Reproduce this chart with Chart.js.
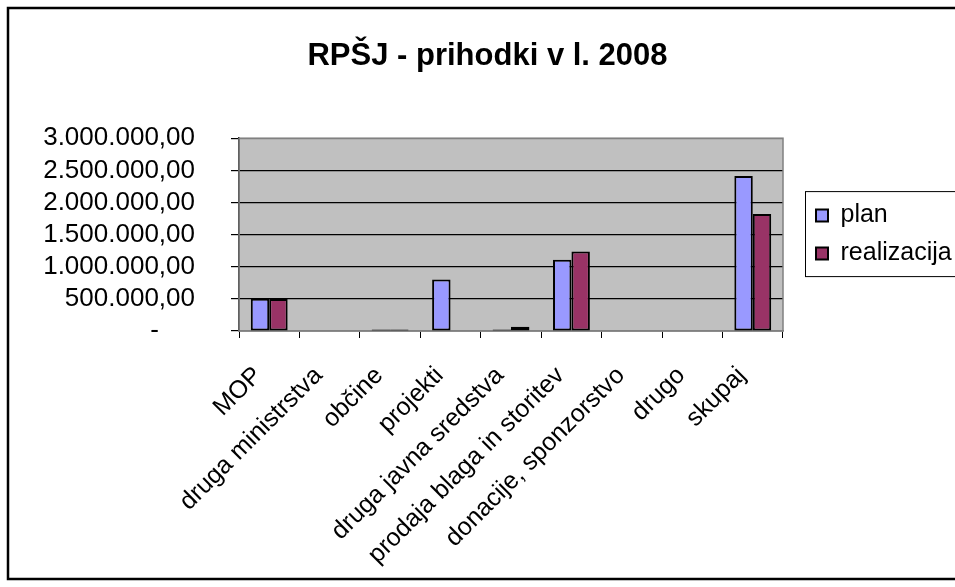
<!DOCTYPE html>
<html>
<head>
<meta charset="utf-8">
<script src="https://cdn.jsdelivr.net/npm/chart.js@4.4.1/dist/chart.umd.min.js"></script>
<style>
  body { margin: 0; background: #fff; }
  canvas { display: block; }
</style>
</head>
<body>
<canvas id="barChart" width="955" height="587"></canvas>
<script>
// RPŠJ - prihodki v l. 2008
const categories = ['MOP', 'druga ministrstva', 'občine', 'projekti', 'druga javna sredstva',
    'prodaja blaga in storitev', 'donacije, sponzorstvo', 'drugo', 'skupaj'];
const planValues = [500000, 0, 25000, 800000, 25000, 1110000, 0, 0, 2410000];
const realValues = [498000, 0, 25000, 0, 65000, 1237000, 0, 0, 1820000];
const yTicks = [0, 500000, 1000000, 1500000, 2000000, 2500000, 3000000];

const font = 'Liberation Sans';

// 3.000.000,00 style
function fmt(v) {
    if (v === 0) return '-     ';
    let s = Math.round(v).toString().replace(/\B(?=(\d{3})+(?!\d))/g, '.');
    return s + ',00';
}

const framePlugin = {
    id: 'frame',
    beforeDraw(chart) {
        const {ctx, chartArea: a} = chart;
        ctx.save();
        ctx.fillStyle = '#C0C0C0';
        ctx.fillRect(a.left, a.top, a.right - a.left, a.bottom - a.top);
        ctx.restore();
    },
    beforeDatasetsDraw(chart) {
        const {ctx, chartArea: a} = chart;
        ctx.save();
        ctx.strokeStyle = '#808080';
        ctx.lineWidth = 1.5;
        ctx.strokeRect(a.left, a.top, a.right - a.left, a.bottom - a.top);
        ctx.restore();
    },
    afterDraw(chart) {
        const ctx = chart.ctx;
        ctx.save();
        // legend box
        const hb = chart.legend.legendHitBoxes;
        if (hb && hb.length) {
            const top = hb[0].top - 12;
            const bottom = hb[hb.length - 1].top + hb[hb.length - 1].height + 10;
            ctx.strokeStyle = '#000';
            ctx.lineWidth = 1;
            ctx.strokeRect(hb[0].left - 10.5, top + 0.5, 300, bottom - top);
        }
        // outer frame
        ctx.lineWidth = 2.5;
        ctx.strokeStyle = '#000';
        ctx.strokeRect(8, 8, 1000, 571);
        ctx.restore();
    }
};

new Chart(document.getElementById('barChart'), {
    type: 'bar',
    data: {
        labels: categories,
        datasets: [{
            label: 'plan',
            data: planValues,
            backgroundColor: '#9999FF',
            borderColor: '#000',
            borderWidth: 2,
            borderSkipped: false,
            categoryPercentage: 0.61,
            barPercentage: 1.0
        }, {
            label: 'realizacija',
            data: realValues,
            backgroundColor: '#993366',
            borderColor: '#000',
            borderWidth: 2,
            borderSkipped: false,
            categoryPercentage: 0.61,
            barPercentage: 1.0
        }]
    },
    options: {
        responsive: false,
        devicePixelRatio: 1,
        animation: false,
        layout: { padding: { left: 20 } },
        plugins: {
            title: {
                display: true,
                text: 'RPŠJ - prihodki v l. 2008',
                color: '#000',
                font: { family: font, size: 31, weight: 'bold' },
                padding: { top: 38, bottom: 63 }
            },
            legend: {
                position: 'right',
                fullSize: false,
                maxWidth: 152,
                labels: {
                    color: '#000',
                    font: { family: font, size: 25 },
                    boxWidth: 12,
                    boxHeight: 12,
                    padding: 13
                }
            },
            tooltip: { enabled: false }
        },
        scales: {
            x: {
                grid: {
                    offset: true,
                    drawOnChartArea: false,
                    drawTicks: true,
                    tickLength: 7,
                    color: '#000',
                    lineWidth: 1
                },
                border: { display: true, color: '#808080', width: 1.5 },
                ticks: {
                    autoSkip: false,
                    minRotation: 45,
                    maxRotation: 45,
                    padding: 23,
                    labelOffset: -11,
                    color: '#000',
                    font: { family: font, size: 25 }
                },
                afterFit(s) { s.height = 256; }
            },
            y: {
                min: 0,
                max: 3000000,
                afterBuildTicks(s) { s.ticks = yTicks.map(v => ({value: v})); },
                grid: {
                    color: c => (c.tick && (c.tick.value === 0 || c.tick.value === 3000000)) ? '#808080' : '#000',
                    tickColor: '#000',
                    tickLength: 8,
                    lineWidth: 1.2
                },
                border: { display: true, color: '#000', width: 1.5 },
                ticks: {
                    autoSkip: false,
                    padding: 36,
                    color: '#000',
                    font: { family: font, size: 26 },
                    callback: v => fmt(v)
                },
                afterFit(s) { s.width = 219; }
            },
            gap: {
                type: 'linear',
                position: 'right',
                display: true,
                grid: { display: false, drawTicks: false },
                border: { display: false },
                ticks: { display: false },
                afterFit(s) { s.width = 20; }
            }
        }
    },
    plugins: [framePlugin]
});
</script>
</body>
</html>
